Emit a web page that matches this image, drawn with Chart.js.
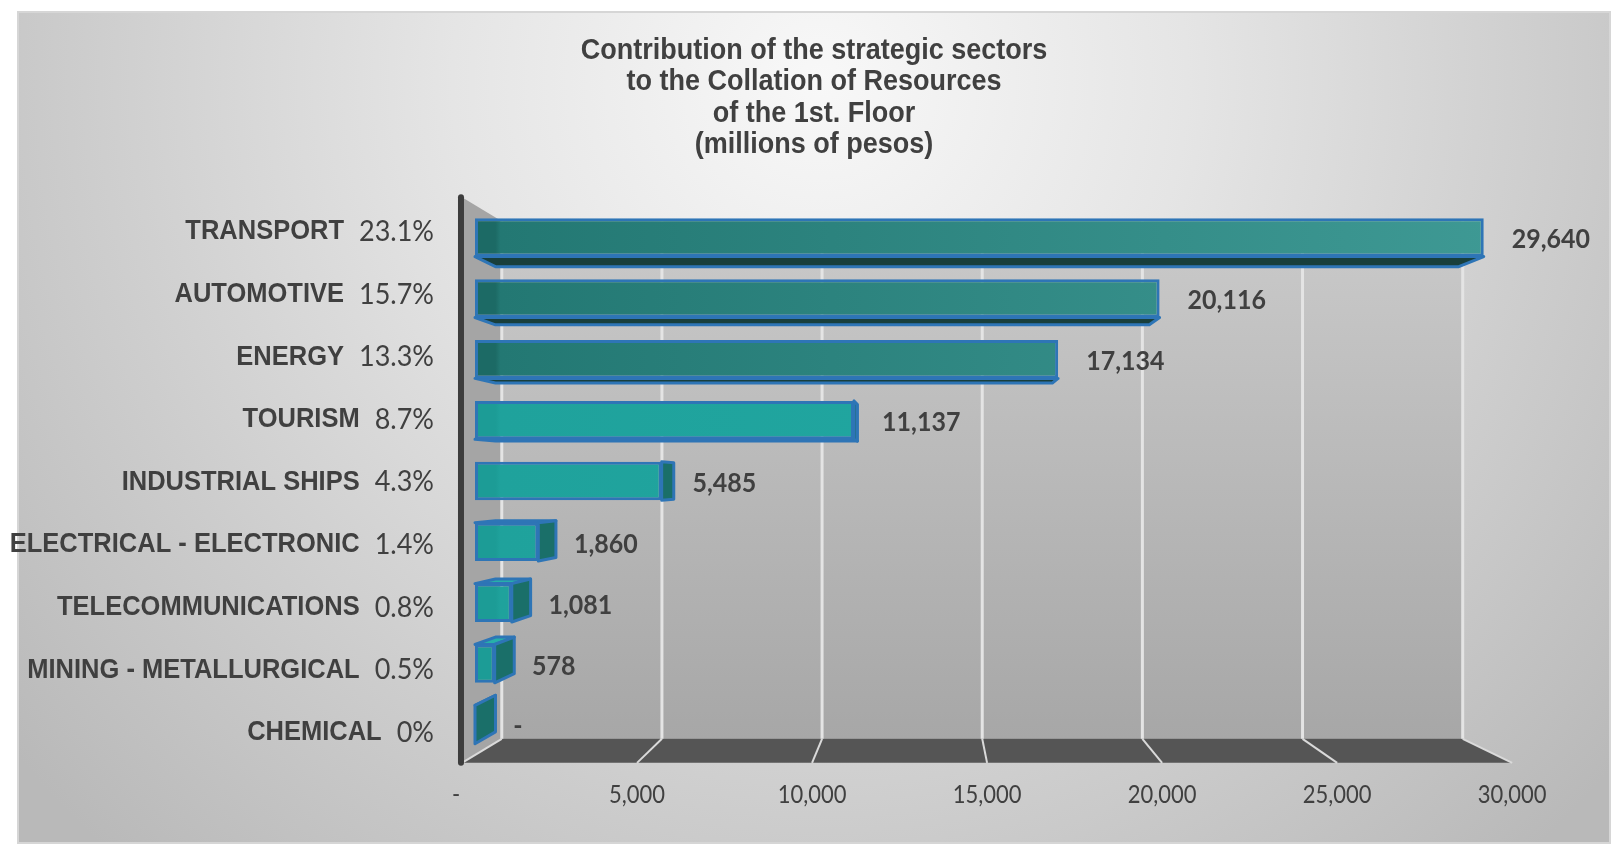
<!DOCTYPE html>
<html>
<head>
<meta charset="utf-8">
<script src="https://cdn.jsdelivr.net/npm/chart.js@4.4.1/dist/chart.umd.min.js"></script>
<style>
  html, body { margin: 0; padding: 0; background: #ffffff; overflow: hidden; }
  canvas { display: block; }
</style>
</head>
<body>
<canvas id="c" width="1624" height="862"></canvas>
<script>
// ---------------- DATA ----------------
const titleLines = [
  'Contribution of the strategic sectors',
  'to the Collation of Resources',
  'of the 1st. Floor',
  '(millions of pesos)'
];
const categories = [
  'TRANSPORT', 'AUTOMOTIVE', 'ENERGY', 'TOURISM', 'INDUSTRIAL SHIPS',
  'ELECTRICAL - ELECTRONIC', 'TELECOMMUNICATIONS', 'MINING - METALLURGICAL', 'CHEMICAL'
];
const amounts = [29640, 20116, 17134, 11137, 5485, 1860, 1081, 578, 0];
const sharePercents = [23.1, 15.7, 13.3, 8.7, 4.3, 1.4, 0.8, 0.5, 0];
const tickValues = [0, 5000, 10000, 15000, 20000, 25000, 30000];

// ---------------- STYLE ----------------
const darkTeal = ['#1c6a65', '#3e9994'];
const lightTeal = ['#1c9c96', '#22aaa4'];
const barTone = ['dark', 'dark', 'dark', 'light', 'light', 'light', 'light', 'light', 'light'];
const BLUE = '#2e75b6';
const TEXT = '#404040';
const VP = { x: 930, y: 480 };   // perspective vanishing point
const G = 0.0278;                // depth of bar front plane
const D_BAR = 0.045;             // bar depth
const T_WALL = 0.085;            // depth of back wall

function toward(x, y, t) { return [x + t * (VP.x - x), y + t * (VP.y - y)]; }
function frontX(px) { return (px - G * VP.x) / (1 - G); }
function frontY(py) { return (py - G * VP.y) / (1 - G); }
function fmt(v) { return v === 0 ? '-' : v.toLocaleString('en-US'); }
function fmtPct(p) { return p === 0 ? '0%' : p.toFixed(1) + '%'; }

function txt(ctx, s, x, y, font, align, sy, color) {
  ctx.save();
  ctx.font = font;
  ctx.textAlign = align;
  ctx.textBaseline = 'middle';
  ctx.fillStyle = color || TEXT;
  ctx.translate(x, y);
  ctx.scale(1, sy);
  ctx.fillText(s, 0, 0);
  ctx.restore();
}
function poly(ctx, pts, fill, stroke, lw) {
  ctx.beginPath();
  ctx.moveTo(pts[0][0], pts[0][1]);
  for (let i = 1; i < pts.length; i++) ctx.lineTo(pts[i][0], pts[i][1]);
  ctx.closePath();
  if (fill) { ctx.fillStyle = fill; ctx.fill(); }
  if (stroke) { ctx.strokeStyle = stroke; ctx.lineWidth = lw || 3; ctx.lineJoin = 'round'; ctx.stroke(); }
}

const scenePlugin = {
  id: 'scene',
  beforeDraw(chart) {
    const ctx = chart.ctx;
    const W = chart.width, H = chart.height;
    const xs = chart.scales.x, ys = chart.scales.y;
    ctx.save();
    // page & frame
    ctx.fillStyle = '#ffffff';
    ctx.fillRect(0, 0, W, H);
    const bg = ctx.createRadialGradient(820, 80, 0, 820, 80, 1050);
    bg.addColorStop(0, '#f8f8f8');
    bg.addColorStop(0.35, '#e5e5e5');
    bg.addColorStop(0.7, '#cdcdcd');
    bg.addColorStop(1, '#b9b9b9');
    ctx.fillStyle = bg;
    ctx.fillRect(18, 12, 1592, 831);
    ctx.strokeStyle = '#d6d6d6';
    ctx.lineWidth = 2;
    ctx.strokeRect(18, 12, 1592, 831);

    // title
    titleLines.forEach((line, i) => {
      txt(ctx, line, 814, 51 + i * 31.3, 'bold 27px "Liberation Sans", Arial, sans-serif', 'center', 1.1);
    });

    // 3D box
    const fx0 = frontX(xs.getPixelForValue(0));
    const fx1 = frontX(xs.getPixelForValue(30000));
    const fTop = frontY(ys.top) - 2;
    const fBot = frontY(ys.bottom);
    const bTL = toward(fx0, fTop, T_WALL);
    const bBL = toward(fx0, fBot, T_WALL);
    const bBR = toward(fx1, fBot, T_WALL);
    const bTop = bTL[1], bBot = bBL[1];
    // side wall
    poly(ctx, [[fx0, fTop], bTL, bBL, [fx0, fBot]], '#a5a5a5');
    // back wall
    const bw = ctx.createLinearGradient(0, bTop, 0, bBot);
    bw.addColorStop(0, '#cacaca');
    bw.addColorStop(1, '#a7a7a7');
    ctx.fillStyle = bw;
    ctx.fillRect(bTL[0], bTop, bBR[0] - bTL[0], bBot - bTop);
    // floor
    poly(ctx, [[fx0, fBot], [fx1, fBot], bBR, bBL], '#555555');
    // grid lines on back wall and floor
    tickValues.forEach(v => {
      const fx = frontX(xs.getPixelForValue(v));
      const b = toward(fx, fBot, T_WALL);
      ctx.strokeStyle = '#e4e4e4';
      ctx.lineWidth = 3;
      ctx.beginPath();
      ctx.moveTo(b[0], bTop);
      ctx.lineTo(b[0], b[1]);
      ctx.stroke();
      ctx.strokeStyle = '#dadada';
      ctx.lineWidth = 2;
      ctx.beginPath();
      ctx.moveTo(b[0], b[1]);
      ctx.lineTo(fx, fBot);
      ctx.stroke();
    });
    // left axis line
    ctx.strokeStyle = '#3d3d3d';
    ctx.lineWidth = 6;
    ctx.lineCap = 'round';
    ctx.beginPath();
    ctx.moveTo(fx0 - 1, fTop);
    ctx.lineTo(fx0 - 1, fBot);
    ctx.stroke();

    // value axis labels (front edge of floor)
    tickValues.forEach(v => {
      const fx = frontX(xs.getPixelForValue(v));
      txt(ctx, fmt(v), fx - (v === 0 ? 6 : 0), fBot + 32,
          '22px Lato, "Open Sans", sans-serif', 'center', 1.12);
    });

    // category labels + percentages (on the front plane)
    categories.forEach((name, i) => {
      const y = frontY(ys.getPixelForValue(i)) + 1;
      const pct = fmtPct(sharePercents[i]);
      ctx.font = '27px Lato, sans-serif';
      const w = ctx.measureText(pct).width;
      txt(ctx, pct, 434, y, '27px Lato, sans-serif', 'right', 1.08);
      txt(ctx, name, 434 - w - 15, y, 'bold 25.5px "Liberation Sans", Arial, sans-serif', 'right', 1.1);
    });
    ctx.restore();
  },
  beforeDatasetsDraw(chart) {
    const ctx = chart.ctx;
    const meta = chart.getDatasetMeta(0);
    ctx.save();
    meta.data.forEach((bar, i) => {
      const p = bar.getProps(['x', 'y', 'base', 'height'], true);
      const x0 = p.base, x1 = p.x;
      const y0 = p.y - p.height / 2, y1 = p.y + p.height / 2;
      const dark = barTone[i] === 'dark';
      if (y1 < VP.y - 2) {
        poly(ctx, [[x0, y1], [x1, y1], toward(x1, y1, D_BAR), toward(x0, y1, D_BAR)],
             dark ? '#183f3c' : '#176560', BLUE, 3);
      }
      if (y0 > VP.y + 2) {
        poly(ctx, [[x0, y0], [x1, y0], toward(x1, y0, D_BAR), toward(x0, y0, D_BAR)],
             '#27b0a9', BLUE, 3);
      }
      if (x1 < VP.x) {
        poly(ctx, [[x1, y0], [x1, y1], toward(x1, y1, D_BAR), toward(x1, y0, D_BAR)],
             '#1a6f69', BLUE, 3);
      }
    });
    ctx.restore();
  },
  afterDatasetsDraw(chart) {
    const ctx = chart.ctx;
    const meta = chart.getDatasetMeta(0);
    meta.data.forEach((bar, i) => {
      const p = bar.getProps(['x', 'y'], true);
      const lx = p.x + Math.max(28, 20 + (VP.x - p.x) * 0.04);
      txt(ctx, fmt(amounts[i]), lx, p.y + 2, 'bold 25px Lato, sans-serif', 'left', 1.1);
    });
  }
};

new Chart(document.getElementById('c'), {
  type: 'bar',
  data: {
    labels: categories,
    datasets: [{
      data: amounts,
      backgroundColor: (c) => {
        const chart = c.chart;
        const area = chart.chartArea;
        const tone = barTone[c.dataIndex] === 'dark' ? darkTeal : lightTeal;
        if (!area) return tone[0];
        const g = chart.ctx.createLinearGradient(area.left, 0, area.right, 0);
        g.addColorStop(0, tone[0]);
        g.addColorStop(0.02, tone[0]);
        g.addColorStop(0.025, barTone[c.dataIndex] === 'dark' ? '#237873' : '#1fa29c');
        g.addColorStop(1, tone[1]);
        return g;
      },
      borderColor: BLUE,
      borderWidth: 3,
      borderSkipped: false,
      barPercentage: 0.63,
      categoryPercentage: 1
    }]
  },
  options: {
    indexAxis: 'y',
    responsive: false,
    animation: false,
    layout: { padding: { left: 475, right: 128, top: 207, bottom: 107 } },
    scales: {
      x: { min: 0, max: 30000, display: false },
      y: { display: false }
    },
    plugins: {
      legend: { display: false },
      tooltip: { enabled: false },
      title: { display: false }
    }
  },
  plugins: [scenePlugin]
});
</script>
</body>
</html>
